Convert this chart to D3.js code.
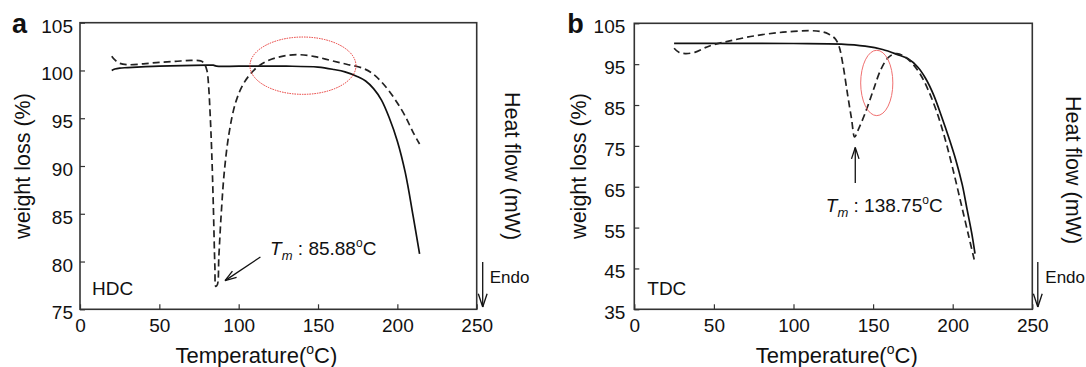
<!DOCTYPE html>
<html lang="en">
<head>
<meta charset="utf-8">
<title>HDC / TDC thermal analysis</title>
<script src="https://d3js.org/d3.v7.min.js"></script>
<style>
  body { margin: 0; background: #fff; }
  svg text { font-family: "Liberation Sans", Arial, sans-serif; fill: #111; }
</style>
</head>
<body>
<script>
// temperature axis (shared)
var tempTicks = [0, 50, 100, 150, 200, 250];

// panel a - HDC
var hdcTicks = [75, 80, 85, 90, 95, 100, 105];
var hdcTga = [[20,100.0],[22,100.15],[25,100.25],[30,100.3],[50,100.45],[80,100.55],[84,100.55],[86,100.45],
  [100,100.45],[130,100.45],[150,100.35],[160,100.1],[167,99.85],[175,99.35],[180,98.9],[185,98.1],
  [190,96.9],[195,95.0],[200,92.6],[205,89.3],[210,84.7],[214,80.8]];
var hdcDsc = [[20,101.5],[22,101.1],[25,100.75],[30,100.6],[40,100.7],[50,100.85],[60,100.95],[70,101.05],
  [76,101.0],[78,100.8],[80,100.0],[81,98.5],[82,95.5],[83,91.5],[84,86.0],[85,79.5],[85.6,77.4],[86.6,77.6],
  [87.5,80.5],[89,85.0],[91,89.5],[94,93.5],[98,96.6],[103,98.6],[110,100.1],[118,101.0],[128,101.5],
  [138,101.65],[148,101.45],[158,101.05],[168,100.65],[178,100.25],[185,99.6],[190,98.8],[195,97.8],
  [200,96.6],[205,95.2],[210,93.5],[214,92.3]];

// panel b - TDC
var tdcTicks = [35, 45, 55, 65, 75, 85, 95, 105];
var tdcTga = [[25,100.1],[50,100.1],[100,100.05],[130,99.9],[145,99.4],[156,98.6],[165,97.4],[172,96.3],
  [178,94.3],[183,91.5],[188,87.5],[193,82.2],[198,76.5],[202,71.5],[206,65.5],[209,59.5],[212,53.5],[214,48.6]];
var tdcDsc = [[25,98.9],[28,97.9],[32,97.6],[38,97.9],[45,99.1],[50,99.8],[60,100.7],[75,101.9],[90,102.7],
  [100,103.0],[110,103.2],[117,103.0],[122,102.4],[126,101.3],[128.5,99.5],[131,95.0],[134,87.5],[136.5,81.5],
  [138.4,77.2],[140.5,78.8],[145,83.0],[150,88.5],[155,93.8],[160,96.8],[165,97.6],[170,96.8],[175,95.0],
  [180,92.3],[185,88.3],[190,83.3],[195,77.0],[200,69.5],[205,61.3],[210,53.0],[213.5,47.2]];

var W = 1086, H = 367, BOTTOM = 309.3;
var svg = d3.select("body").append("svg").attr("width", W).attr("height", H);

function drawPanel(p) {
  var x = d3.scaleLinear().domain([0, 250]).range([p.left, p.right]);
  var y = d3.scaleLinear().domain(d3.extent(p.ticks)).range([BOTTOM, p.top]);
  var g = svg.append("g");

  // frame
  g.append("rect").attr("x", p.left).attr("y", p.top)
    .attr("width", p.right - p.left).attr("height", BOTTOM - p.top)
    .attr("fill", "none").attr("stroke", "#333").attr("stroke-width", 1.6);

  // axes with inward ticks
  var xa = g.append("g").attr("transform", "translate(0," + BOTTOM + ")")
    .call(d3.axisBottom(x).tickValues(tempTicks).tickSize(-5).tickPadding(9));
  var ya = g.append("g").attr("transform", "translate(" + p.left + ",0)")
    .call(d3.axisLeft(y).tickValues(p.ticks).tickSize(-5).tickPadding(p.yPad));
  [xa, ya].forEach(function(a) {
    a.select(".domain").remove();
    a.selectAll("line").attr("stroke", "#333").attr("stroke-width", 1.2);
    a.selectAll("text").style("font-size", "19px").attr("fill", "#111")
      .style("font-family", "'Liberation Sans', Arial, sans-serif");
  });
  xa.selectAll("text").attr("dy", "0.71em");
  ya.selectAll("text").attr("dy", "0.5em");

  var line = d3.line().x(function(d) { return x(d[0]); }).y(function(d) { return y(d[1]); })
    .curve(d3.curveCatmullRom.alpha(0.5));

  g.append("path").datum(p.tga).attr("d", line)
    .attr("fill", "none").attr("stroke", "#111").attr("stroke-width", 1.7);
  g.append("path").datum(p.dsc).attr("d", line)
    .attr("fill", "none").attr("stroke", "#222").attr("stroke-width", 1.7)
    .attr("stroke-dasharray", "7,4");

  // red highlight ellipse
  var e = p.ellipse;
  g.append("ellipse").attr("cx", x(e.t)).attr("cy", y(e.v))
    .attr("rx", x(e.t + e.dt) - x(e.t)).attr("ry", y(e.v - e.dv) - y(e.v))
    .attr("fill", "none").attr("stroke", p.ellipseColor).attr("stroke-width", 1)
    .attr("stroke-dasharray", p.ellipseDash);

  // Tm arrow
  var a0 = [x(p.arrow[0][0]), y(p.arrow[0][1])], a1 = [x(p.arrow[1][0]), y(p.arrow[1][1])];
  arrow(g, a0, a1, 12);
  var tm = g.append("text").attr("x", x(p.tmText[0])).attr("y", y(p.tmText[1]))
    .style("font-size", "19px");
  tm.append("tspan").style("font-style", "italic").text("T");
  tm.append("tspan").style("font-style", "italic").style("font-size", "13px").attr("dy", 5).text("m");
  tm.append("tspan").attr("dy", -5).text(" : " + p.tm);
  tm.append("tspan").style("font-size", "12px").attr("dy", -8).text("o");
  tm.append("tspan").attr("dy", 8).text("C");

  // sample name
  g.append("text").attr("x", p.left + p.nameDx).attr("y", 295).style("font-size", "19px").text(p.name);

  // panel letter
  g.append("text").attr("x", p.left - p.letterDx).attr("y", 33).style("font-size", "27px")
    .style("font-weight", "bold").text(p.letter);

  // axis titles
  var xt = g.append("text").attr("x", (p.left + p.right) / 2 + p.titleDx).attr("y", 363)
    .attr("text-anchor", "middle").style("font-size", "22px");
  xt.append("tspan").text("Temperature(");
  xt.append("tspan").style("font-size", "14px").attr("dy", -9).text("o");
  xt.append("tspan").attr("dy", 9).text("C)");

  g.append("text").attr("transform", "translate(" + (p.left - p.wlDx) + ",166) rotate(-90)")
    .attr("text-anchor", "middle").attr("dy", "0.35em").style("font-size", "21.5px").text("weight loss (%)");
  g.append("text").attr("transform", "translate(" + (p.right + p.hfDx) + "," + p.hfY + ") rotate(90)")
    .attr("text-anchor", "middle").attr("dy", "0.35em").style("font-size", "21.5px").text("Heat flow (mW)");

  // Endo arrow
  arrow(g, [p.right + p.endoDx, 262], [p.right + p.endoDx, 307], 14);
  g.append("text").attr("x", p.right + 13).attr("y", 283).style("font-size", "17px").text("Endo");
}

function arrow(g, from, to, head) {
  var ang = Math.atan2(to[1] - from[1], to[0] - from[0]);
  g.append("line").attr("x1", from[0]).attr("y1", from[1]).attr("x2", to[0]).attr("y2", to[1])
    .attr("stroke", "#111").attr("stroke-width", 1.3);
  [-0.32, 0.32].forEach(function(s) {
    g.append("line").attr("x1", to[0]).attr("y1", to[1])
      .attr("x2", to[0] - head * Math.cos(ang + s)).attr("y2", to[1] - head * Math.sin(ang + s))
      .attr("stroke", "#111").attr("stroke-width", 1.3);
  });
}

drawPanel({
  letter: "a", name: "HDC", left: 80, right: 476.7, top: 22.7, ticks: hdcTicks, yPad: 7,
  tga: hdcTga, dsc: hdcDsc, tm: "85.88",
  ellipse: { t: 140.5, v: 100.5, dt: 33.4, dv: 3.0 }, ellipseColor: "#e8322f", ellipseDash: "1.5,1",
  arrow: [[113.7, 80.47], [91.4, 78.0]], tmText: [119.8, 80.65],
  letterDx: 68, nameDx: 12, titleDx: -22, wlDx: 57.5, hfDx: 35.5, hfY: 166, endoDx: 6
});
drawPanel({
  letter: "b", name: "TDC", left: 634.3, right: 1032.3, top: 23.3, ticks: tdcTicks, yPad: 9,
  tga: tdcTga, dsc: tdcDsc, tm: "138.75",
  ellipse: { t: 152.3, v: 90.4, dt: 10.1, dv: 8.0 }, ellipseColor: "#f07070", ellipseDash: null,
  arrow: [[138.8, 65.9], [138.8, 74.6]], tmText: [120.3, 58.8],
  letterDx: 67, nameDx: 13, titleDx: 3.5, wlDx: 56, hfDx: 41, hfY: 170, endoDx: 5.5
});
</script>
</body>
</html>
